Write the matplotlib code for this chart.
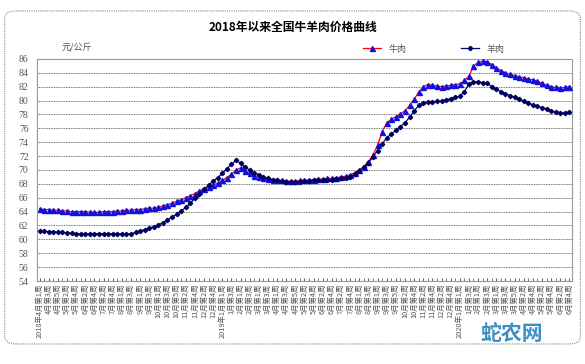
import numpy as np
import pandas as pd
import matplotlib.pyplot as plt
from matplotlib.patches import FancyBboxPatch
from matplotlib.ticker import MultipleLocator

plt.rcParams['font.family'] = ['Noto Sans CJK SC', 'DejaVu Sans']

# weekly prices, yuan/kg, 2018 Apr wk1 .. 2020 Jun wk4
beef = [64.4, 64.3, 64.3, 64.2, 64.2, 64.1, 64.1, 64.0, 64.0, 64.0,
        64.0, 63.9, 63.9, 63.9, 64.0, 64.0, 64.0, 64.1, 64.1, 64.2,
        64.2, 64.3, 64.3, 64.4, 64.5, 64.5, 64.6, 64.8, 65.0, 65.2,
        65.5, 65.7, 66.0, 66.3, 66.6, 67.0, 67.3, 67.5, 67.8, 68.1,
        68.5, 68.9, 69.4, 70.0, 70.3, 69.8, 69.5, 69.2, 69.0, 68.8,
        68.7, 68.6, 68.5, 68.5, 68.4, 68.4, 68.4, 68.5, 68.5, 68.6,
        68.6, 68.7, 68.7, 68.8, 68.8, 68.9, 69.0, 69.1, 69.3, 69.6,
        70.0, 70.5, 71.2, 72.2, 73.6, 75.5, 76.8, 77.3, 77.7, 78.1,
        78.5, 79.3, 80.2, 81.2, 82.0, 82.3, 82.2, 82.1, 82.0, 82.1,
        82.2, 82.3, 82.4, 82.9, 83.5, 85.0, 85.5, 85.7, 85.6, 85.2,
        84.7, 84.3, 84.0, 83.8, 83.6, 83.4, 83.3, 83.1, 83.0, 82.8,
        82.5, 82.2, 82.0, 81.9, 81.8, 81.9, 82.0]

mutton = [61.2, 61.2, 61.1, 61.1, 61.0, 61.0, 60.9, 60.9, 60.8, 60.8,
          60.8, 60.8, 60.8, 60.8, 60.8, 60.8, 60.8, 60.8, 60.8, 60.8,
          60.8, 61.0, 61.2, 61.4, 61.6, 61.8, 62.1, 62.4, 62.8, 63.2,
          63.6, 64.1, 64.6, 65.2, 65.9, 66.6, 67.2, 67.8, 68.4, 68.9,
          69.5, 70.2, 70.8, 71.4, 71.0, 70.4, 70.0, 69.6, 69.3, 69.0,
          68.8, 68.6, 68.5, 68.4, 68.3, 68.3, 68.3, 68.3, 68.4, 68.4,
          68.5, 68.5, 68.5, 68.6, 68.6, 68.7, 68.8, 68.9, 69.0, 69.4,
          69.9, 70.4, 71.0, 71.9, 72.8, 73.8, 74.6, 75.2, 75.7, 76.2,
          76.8, 77.6, 78.5, 79.3, 79.7, 79.8, 79.8, 79.9, 79.9, 80.1,
          80.3, 80.5, 80.6, 81.3, 82.4, 82.7, 82.7, 82.6, 82.5, 82.0,
          81.6, 81.3, 81.0, 80.7, 80.5, 80.2, 79.9, 79.6, 79.4, 79.2,
          79.0, 78.8, 78.5, 78.3, 78.2, 78.2, 78.4]

# week labels, every category; only every other one is shown
weeks = pd.date_range('2018-04-02', '2020-06-22', freq='7D')
labels = []
prev_year = None
for d in weeks:
    lab = f"{d.month}月第{(d.day - 1) // 7 + 1}周"
    if d.year != prev_year:
        lab = f"{d.year}年" + lab
        prev_year = d.year
    labels.append(lab)

x = np.arange(len(beef))

fig = plt.figure(figsize=(5.85, 3.64), dpi=100)
fig.patches.append(FancyBboxPatch((0.008, 0.055), 0.984, 0.915,
                                  boxstyle="round,pad=0,rounding_size=0.02",
                                  transform=fig.transFigure, fill=False,
                                  edgecolor='#888888', linestyle=(0, (1, 1)), lw=0.8))

ax = fig.add_axes([0.063, 0.228, 0.915, 0.61])
ax.plot(x, beef, color='red', lw=0.9, marker='^', ms=3.6,
        mfc='#1010e0', mec='#1010e0', label='牛肉', zorder=3)
ax.plot(x, mutton, color='#000080', lw=0.9, marker='D', ms=2.2,
        mfc='#000060', mec='#000060', label='羊肉', zorder=3)

ax.set_ylim(54, 86)
ax.set_xlim(-0.6, len(x) - 0.4)
ax.yaxis.set_major_locator(MultipleLocator(2))
ax.grid(axis='y', color='#444444', linestyle=(0, (1, 1)), lw=0.6)
for s in ax.spines.values():
    s.set_color('#999999')
    s.set_linestyle((0, (1, 1)))
    s.set_linewidth(0.8)

ax.set_xticks(x[::2])
ax.set_xticklabels(labels[::2], rotation=90, fontsize=5.3, color='#555555')
ax.set_xticks(x, minor=True)
ax.tick_params(axis='x', which='both', direction='in', length=2, color='#666666', pad=2)
ax.tick_params(axis='y', length=0, labelsize=7, labelcolor='#555555', pad=6)
for t in ax.get_yticklabels():
    t.set_family('Liberation Serif')

fig.text(0.5, 0.925, '2018年以来全国牛羊肉价格曲线', ha='center', va='center',
         fontsize=8.5, fontweight='bold')
fig.text(0.105, 0.868, '元/公斤', ha='left', va='center', fontsize=6.5, color='#555555')
ax.legend(loc='lower left', bbox_to_anchor=(0.6, 1.0), ncol=2, frameon=False,
          fontsize=6.5, handlelength=2.0, columnspacing=6, borderaxespad=0.2,
          labelcolor='#555555')

fig.text(0.875, 0.055, '蛇农网', ha='center', va='bottom', fontsize=15,
         fontweight='bold', color='#3d8fc6', style='italic')

fig.savefig('out.png', dpi=100)
